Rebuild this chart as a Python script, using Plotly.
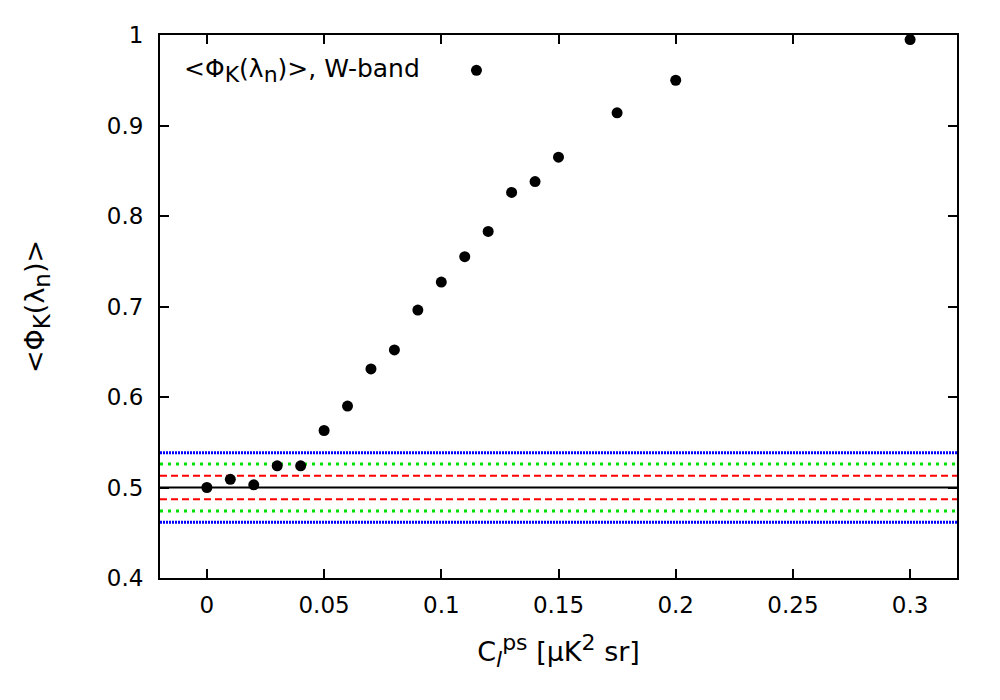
import plotly.graph_objects as go

# mean Phi_K(lambda_n) vs point-source amplitude
c_ps = [0.0, 0.01, 0.02, 0.03, 0.04, 0.05, 0.06, 0.07, 0.08, 0.09, 0.1, 0.11,
        0.115, 0.12, 0.13, 0.14, 0.15, 0.175, 0.2, 0.3]
phi_k = [0.500, 0.509, 0.503, 0.524, 0.524, 0.563, 0.590, 0.631, 0.652, 0.696,
         0.727, 0.755, 0.961, 0.783, 0.826, 0.838, 0.865, 0.914, 0.950, 0.995]

# reference level and confidence bands
ref_level = 0.5
band_1 = 0.013
band_2 = 0.026
band_3 = 0.0385

x_ticks = [0, 0.05, 0.1, 0.15, 0.2, 0.25, 0.3]
y_ticks = [0.4, 0.5, 0.6, 0.7, 0.8, 0.9, 1.0]
y_tick_labels = ["0.4", "0.5", "0.6", "0.7", "0.8", "0.9", "1"]

FONT = "DejaVu Sans, Liberation Sans, sans-serif"


def sub(t, px):
    return "<sub><span style='font-size:%dpx'>%s</span></sub>" % (px, t)


def sup(t, px):
    return "<sup><span style='font-size:%dpx'>%s</span></sup>" % (px, t)


fig = go.Figure()

fig.add_trace(go.Scatter(
    x=c_ps, y=phi_k, mode="markers",
    marker=dict(color="black", size=11),
    showlegend=False,
))


def hline(y, color, dash, width):
    fig.add_shape(type="line", xref="paper", x0=0, x1=1, yref="y", y0=y, y1=y,
                  line=dict(color=color, dash=dash, width=width), layer="below")


for sign in (1, -1):
    hline(ref_level + sign * band_3, "#0000ff", "2px,1px", 3)
    hline(ref_level + sign * band_2, "#00e000", "3px,5px", 3)
    hline(ref_level + sign * band_1, "#ff0000", "7px,4px", 2)
hline(ref_level, "black", "solid", 2)


def phi_label(px):
    return "&lt;Φ" + sub("K", px) + "(λ" + sub("n", px) + ")&gt;"


fig.add_annotation(
    text=phi_label(22) + ", W-band",
    xref="paper", yref="paper", x=0.027, y=0.935, xanchor="left", yanchor="middle",
    showarrow=False, font=dict(size=25, color="black", family=FONT),
)

axis_common = dict(
    showgrid=False, zeroline=False, showline=True, linecolor="black", linewidth=2,
    mirror="ticks", ticks="inside", ticklen=9, tickwidth=1.5, tickcolor="black",
    tickfont=dict(size=23, color="black", family=FONT),
)

fig.update_layout(
    width=1000, height=700,
    paper_bgcolor="white", plot_bgcolor="white",
    margin=dict(l=152, r=51, t=27, b=130),
    font=dict(family=FONT, color="black"),
    xaxis=dict(range=[-0.02, 0.32], tickvals=x_ticks, ticklabelstandoff=5,
               title=dict(text="C" + sub("<i>l</i>", 22) + sup("ps", 22)
                          + " [μK" + sup("2", 22) + " sr]",
                          font=dict(size=27), standoff=26),
               **axis_common),
    yaxis=dict(range=[0.4, 1.0], tickvals=y_ticks, ticktext=y_tick_labels,
               ticklabelstandoff=10,
               title=dict(text=phi_label(23), font=dict(size=27), standoff=54),
               **axis_common),
)

fig.write_html("out.html")
